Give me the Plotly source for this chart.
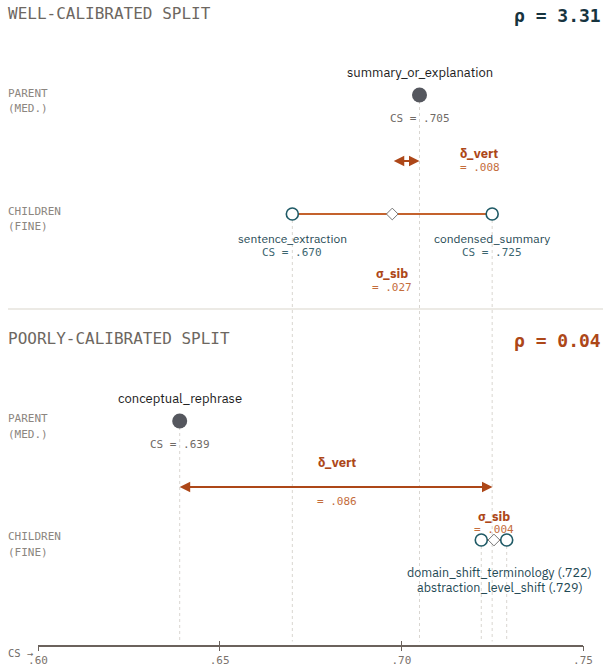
import plotly.graph_objects as go

# ---------------- data ----------------
section_titles = ["WELL-CALIBRATED SPLIT", "POORLY-CALIBRATED SPLIT"]
rho_values = [3.31, 0.04]
parent_names = ["summary_or_explanation", "conceptual_rephrase"]
parent_cs = [0.705, 0.639]
child_names = [["sentence_extraction", "condensed_summary"],
               ["domain_shift_terminology", "abstraction_level_shift"]]
child_cs = [[0.670, 0.725], [0.722, 0.729]]
delta_vert = [0.008, 0.086]
sigma_sib = [0.027, 0.004]
tick_vals = [0.60, 0.65, 0.70, 0.75]
tick_text = [".60", ".65", ".70", ".75"]

# ---------------- style ----------------
W, H = 603, 671
MONO = "DejaVu Sans Mono"
SANS = "IBM Plex Sans, Noto Sans, sans-serif"
GRAY_T = "#6d6761"
GRAY_L = "#8c8680"
ORANGE = "#ad4718"
ORANGE_L = "#c46d3c"
LINE_O = "#c4622d"
TEAL = "#1f4a55"
TEAL_L = "#3b6670"
CIRC = "#1f5a66"
PARENT_C = "#55575e"
AXIS_C = "#6b625c"
DOT_C = "#d9d6d1"

AX_Y = 645.5          # pixel row of the CS axis
X0, X1 = 38, 583      # pixel span of the axis

def fmt(v):
    return f"{v:.3f}".lstrip("0")

fig = go.Figure()
ann = []
shapes = []

def text(x, y, s, size, color, family, xref="x", xanchor="center", bold=False, xshift=0):
    ann.append(dict(x=x, y=y, xref=xref, yref="y", text=s, showarrow=False,
                    xanchor=xanchor, yanchor="middle", xshift=xshift, borderpad=0,
                    font=dict(size=size, color=color, family=family,
                              weight="bold" if bold else "normal")))

offsets = [0, 325]
for i in range(2):
    o = offsets[i]
    p = parent_cs[i]
    c = child_cs[i]
    mean_c = sum(c) / len(c)
    y_par = 95 + o + i
    y_ch = 214 + o + i

    # section title + rho
    text(7 / W, 13 + o, section_titles[i], 16, GRAY_T, MONO, xref="paper", xanchor="left")
    text(602 / W, 15 + o, f"ρ = {rho_values[i]:.2f}", 18,
         "#17343f" if i == 0 else ORANGE, MONO, xref="paper", xanchor="right", bold=True)

    # row labels
    text(7 / W, 93 + o, "PARENT", 11, GRAY_L, MONO, xref="paper", xanchor="left")
    text(7 / W, 108 + o + i, "(MED.)", 11, GRAY_L, MONO, xref="paper", xanchor="left")
    text(7 / W, 211 + o, "CHILDREN", 11, GRAY_L, MONO, xref="paper", xanchor="left")
    text(7 / W, 226 + o + i, "(FINE)", 11, GRAY_L, MONO, xref="paper", xanchor="left")

    # dotted guide lines down to the axis
    fig.add_trace(go.Scatter(x=[p, p], y=[y_par, AX_Y - 4], mode="lines",
                             line=dict(color=DOT_C, width=1, dash="dot"),
                             hoverinfo="skip", showlegend=False))
    for cv in c:
        fig.add_trace(go.Scatter(x=[cv, cv], y=[y_ch, AX_Y - 4], mode="lines",
                                 line=dict(color=DOT_C, width=1, dash="dot"),
                                 hoverinfo="skip", showlegend=False))

    # children connector
    fig.add_trace(go.Scatter(x=[min(c), max(c)], y=[y_ch, y_ch], mode="lines",
                             line=dict(color=LINE_O, width=2),
                             hoverinfo="skip", showlegend=False))
    # parent dot
    fig.add_trace(go.Scatter(x=[p], y=[y_par], mode="markers",
                             marker=dict(size=15, color=PARENT_C, line=dict(width=0)),
                             showlegend=False))
    # children circles
    fig.add_trace(go.Scatter(x=c, y=[y_ch] * len(c), mode="markers",
                             marker=dict(size=12, color="white", line=dict(color=CIRC, width=1.6)),
                             showlegend=False))
    # mean diamond
    fig.add_trace(go.Scatter(x=[mean_c], y=[y_ch], mode="markers",
                             marker=dict(symbol="diamond", size=9, color="white",
                                         line=dict(color="#777777", width=1)),
                             showlegend=False))

    # parent labels
    text(p, 72 + o + i, parent_names[i], 13, "#1c1c1c", SANS)
    text(p, 118 + o + i, f"CS = {fmt(p)}", 11, "#6f6a66", MONO)

    # delta_vert arrow
    y_arr = 161 if i == 0 else 487
    ann.append(dict(x=p, y=y_arr, ax=mean_c, ay=y_arr, xref="x", yref="y",
                    axref="x", ayref="y", text="", showarrow=True,
                    arrowside="end+start", arrowhead=2, arrowsize=1.05,
                    arrowwidth=2, arrowcolor=ORANGE, standoff=0, startstandoff=0))
    if i == 0:
        text(p, 153, "δ_vert", 13, ORANGE, SANS, xanchor="left", bold=True, xshift=39)
        text(p, 167, f"= {fmt(delta_vert[i])}", 11, ORANGE_L, MONO, xanchor="left", xshift=39)
        text(mean_c, 273, "σ_sib", 13, ORANGE, SANS, bold=True)
        text(mean_c, 287, f"= {fmt(sigma_sib[i])}", 11, ORANGE_L, MONO)
        for cv, nm in zip(c, child_names[i]):
            text(cv, 238, nm, 12, TEAL, SANS)
            text(cv, 252, f"CS = {fmt(cv)}", 11, TEAL_L, MONO)
    else:
        mid = (p + mean_c) / 2
        text(mid, 462, "δ_vert", 13, ORANGE, SANS, bold=True)
        text(mid, 501, f"= {fmt(delta_vert[i])}", 11, ORANGE_L, MONO)
        text(mean_c, 516, "σ_sib", 13, ORANGE, SANS, bold=True)
        text(mean_c, 529, f"= {fmt(sigma_sib[i])}", 11, ORANGE_L, MONO)
        for k, (cv, nm) in enumerate(zip(c, child_names[i])):
            text(mean_c, 572 + 15 * k, f"{nm} ({fmt(cv)})", 12.5, TEAL, SANS, xshift=6)

# separator between the two sections
shapes.append(dict(type="line", xref="paper", yref="y", x0=8 / W, x1=1, y0=309, y1=309,
                   line=dict(color="#eceae5", width=2), layer="below"))

# axis caption
text(7 / W, 653, "CS →", 10.5, "#6f6a66", MONO, xref="paper", xanchor="left")

pos = (H - AX_Y) / H
dom = [X0 / W, X1 / W]
fig.update_layout(
    width=W, height=H,
    margin=dict(l=0, r=0, t=0, b=0, autoexpand=False),
    paper_bgcolor="white", plot_bgcolor="rgba(0,0,0,0)",
    showlegend=False,
    annotations=ann, shapes=shapes,
    xaxis=dict(domain=dom, range=[0.60, 0.75], anchor="free", position=pos,
               showgrid=False, zeroline=False, showline=True,
               linecolor=AXIS_C, linewidth=1.5,
               ticks="outside", ticklen=5, tickwidth=1.3, tickcolor=AXIS_C,
               tickvals=tick_vals, ticktext=tick_text, automargin=False,
               tickfont=dict(family=MONO, size=11, color="#7a726c")),
    xaxis2=dict(domain=dom, range=[0.60, 0.75], anchor="free", position=pos,
                overlaying="x", showgrid=False, zeroline=False, showline=False,
                ticks="inside", ticklen=5, tickwidth=1.3, tickcolor=AXIS_C,
                tickvals=tick_vals, showticklabels=False, automargin=False),
    yaxis=dict(domain=[0, 1], range=[H, 0], visible=False, showgrid=False,
               zeroline=False, automargin=False),
)
# invisible point so that the overlaid tick axis renders
fig.add_trace(go.Scatter(x=[0.6], y=[-100], xaxis="x2", yaxis="y", mode="markers",
                         marker=dict(opacity=0), hoverinfo="skip", showlegend=False))

fig.write_html("out.html", config={"displayModeBar": False},
               post_script="document.body.style.margin='0';document.body.style.overflow='hidden';")
